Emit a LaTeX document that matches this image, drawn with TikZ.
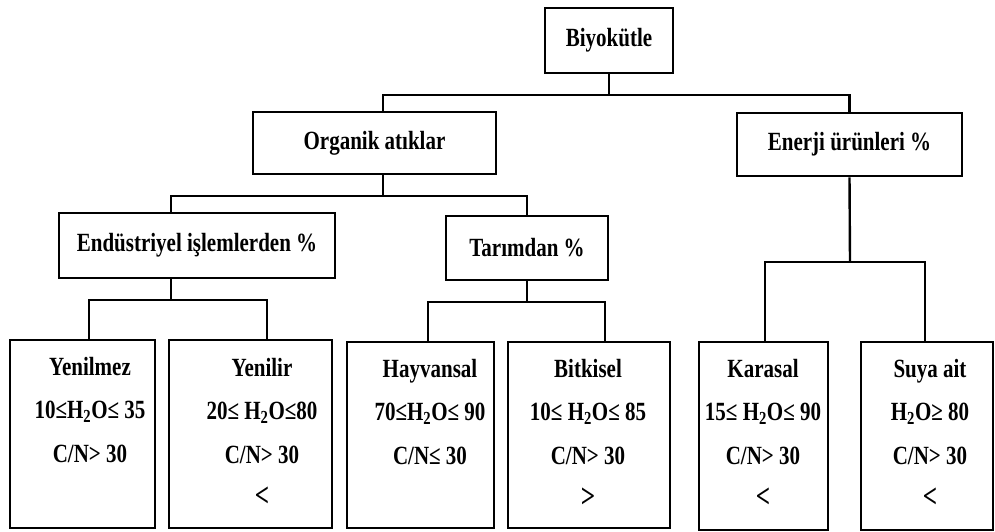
\documentclass[tikz,border=0pt]{standalone}
\usepackage{fontspec}
\usepackage{graphicx}
\setmainfont{Liberation Serif}
% tall, slightly condensed lettering
\newcommand\tl[1]{\scalebox{1}[1.25]{#1}}
% enlarged comparison sign on its own line
\newcommand\bigsign[1]{\scalebox{1.2}[1.6]{#1}}
\begin{document}
\begin{tikzpicture}[x=1pt,y=-1pt,
  box/.style={draw, line width=2.6pt, inner sep=0pt,
    font=\fontsize{21}{25}\selectfont\bfseries},
  link/.style={line width=2.4pt},
  leaf/.style={inner sep=0pt, align=center, anchor=north,
    font=\fontsize{21}{43.5}\selectfont\bfseries}]
\useasboundingbox (0,0) rectangle (995,531);

% upper levels
\node[box, minimum width=128, minimum height=65] (bio) at (609,40.5) {\tl{Biyokütle}};
\node[box, minimum width=243, minimum height=62] (org) at (374.5,143) {\tl{Organik atıklar}};
\node[box, minimum width=225, minimum height=63] (ene) at (849.5,144.5) {\tl{Enerji ürünleri \%}};
\node[box, minimum width=276, minimum height=65] (end) at (197,245.5) {\tl{Endüstriyel işlemlerden \%}};
\node[box, minimum width=162, minimum height=64] (tar) at (527,248) {\tl{Tarımdan \%}};

% leaf boxes
\node[box, minimum width=145, minimum height=188] (yml) at (82.5,434) {};
\node[box, minimum width=163, minimum height=188] (yir) at (250.5,434) {};
\node[box, minimum width=147, minimum height=186] (hay) at (420.5,435) {};
\node[box, minimum width=162, minimum height=186] (bit) at (589,435) {};
\node[box, minimum width=129, minimum height=188] (kar) at (763.5,436) {};
\node[box, minimum width=132, minimum height=188] (suy) at (927,436) {};

% leaf texts
\node[leaf] (ymlT) at (90,357) {\tl{Yenilmez}\\\tl{10≤H\textsubscript{2}O≤ 35}\\\tl{C/N> 30}};
\node[leaf] (yirT) at (262,358) {\tl{Yenilir}\\\tl{20≤ H\textsubscript{2}O≤80}\\\tl{C/N> 30}\\\bigsign{<}};
\node[leaf] (hayT) at (430,359) {\tl{Hayvansal}\\\tl{70≤H\textsubscript{2}O≤ 90}\\\tl{C/N≤ 30}};
\node[leaf] (bitT) at (588,359) {\tl{Bitkisel}\\\tl{10≤ H\textsubscript{2}O≤ 85}\\\tl{C/N> 30}\\\bigsign{>}};
\node[leaf] (karT) at (763,359) {\tl{Karasal}\\\tl{15≤ H\textsubscript{2}O≤ 90}\\\tl{C/N> 30}\\\bigsign{<}};
\node[leaf] (suyT) at (930,359) {\tl{Suya ait}\\\tl{H\textsubscript{2}O≥ 80}\\\tl{C/N> 30}\\\bigsign{<}};

% junctions
\coordinate (j1) at (609,95);
\coordinate (j2) at (383,196);
\coordinate (j3) at (171,300);
\coordinate (j4) at (527,302);
\coordinate (j5) at (850,262);

% connectors
\draw[link] (bio.south) -- (j1);
\draw[link] ([xshift=8.5]org.north) |- (j1);
\draw[link] (ene.north) |- (j1);

\draw[link] ([xshift=8.5]org.south) -- (j2);
\draw[link] ([xshift=-26]end.north) |- (j2);
\draw[link] (tar.north) |- (j2);

\draw[link] ([xshift=-26]end.south) -- (j3);
\draw[link] ([xshift=6.5]yml.north) |- (j3);
\draw[link] ([xshift=16.5]yir.north) |- (j3);

\draw[link] (tar.south) -- (j4);
\draw[link] ([xshift=7.5]hay.north) |- (j4);
\draw[link] ([xshift=16]bit.north) |- (j4);

\draw[link] (ene.south) -- (j5);
\draw[link] ([xshift=1.5]kar.north) |- (j5);
\draw[link] ([xshift=-2]suy.north) |- (j5);
\end{tikzpicture}
\end{document}
